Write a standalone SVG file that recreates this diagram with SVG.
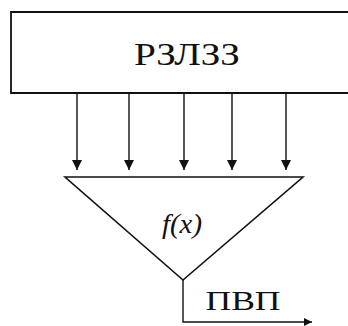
<svg xmlns="http://www.w3.org/2000/svg" width="348" height="326" viewBox="0 0 348 326">
<style>
.ln{stroke:#111;stroke-width:1.4;fill:none}
.t{font-family:"Liberation Serif","DejaVu Serif",serif;fill:#111}
</style>
<defs>
<marker id="ah" viewBox="0 0 10 10" refX="10" refY="5" markerWidth="8" markerHeight="8" markerUnits="userSpaceOnUse" orient="auto">
<path d="M0,0 L10,5 L0,10 z" fill="#111"/>
</marker>
<marker id="ah2" viewBox="0 0 10 10" refX="10" refY="5" markerWidth="10" markerHeight="11" markerUnits="userSpaceOnUse" orient="auto">
<path d="M0,0 L10,5 L0,10 z" fill="#111"/>
</marker>
</defs>
<rect width="348" height="326" fill="#fff"/>
<g id="rzlzz">
<path class="ln" d="M352,12 H11 V93 H352" style="stroke-width:1.8"/>
<text class="t" x="187" y="65" font-size="31" text-anchor="middle" textLength="106" lengthAdjust="spacingAndGlyphs">РЗЛЗЗ</text>
</g>
<g id="fx">
<path class="ln" d="M65,177 H303 L183,280 Z" style="stroke-width:1.6"/>
<text class="t" x="182" y="233" font-size="28" font-style="italic" text-anchor="middle" textLength="40" lengthAdjust="spacingAndGlyphs">f(x)</text>
</g>
<g id="pvp">
<text class="t" x="243" y="310" font-size="27" text-anchor="middle" textLength="75" lengthAdjust="spacingAndGlyphs">ПВП</text>
</g>
<g id="connectors">
<line class="ln" x1="77" y1="93" x2="77" y2="170" marker-end="url(#ah2)"/>
<line class="ln" x1="129" y1="93" x2="129" y2="170" marker-end="url(#ah2)"/>
<line class="ln" x1="184" y1="93" x2="184" y2="170" marker-end="url(#ah2)"/>
<line class="ln" x1="232" y1="93" x2="232" y2="170" marker-end="url(#ah2)"/>
<line class="ln" x1="286" y1="93" x2="286" y2="170" marker-end="url(#ah2)"/>
<path class="ln" d="M183,280 V322 H312" marker-end="url(#ah)"/>
</g>
</svg>
